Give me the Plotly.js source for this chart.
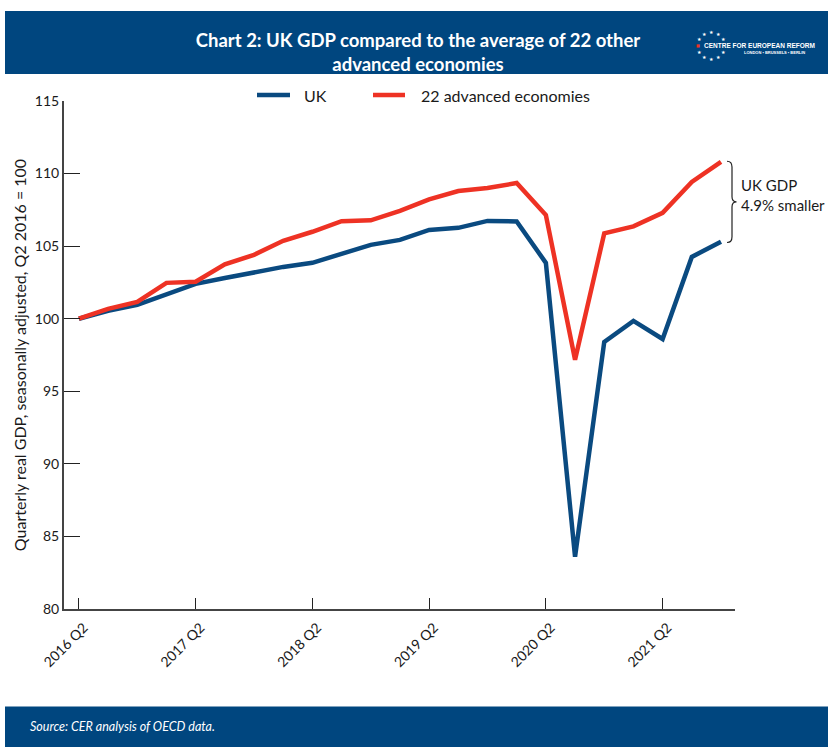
<!DOCTYPE html>
<html>
<head>
<meta charset="utf-8">
<script src="https://cdn.plot.ly/plotly-3.0.1.min.js"></script>
<style>html,body{margin:0;padding:0;background:#fff;}#chart{width:828px;height:747px;}</style>
</head>
<body>
<div id="chart"></div>
<script>
// Quarters (x categories)
const quarters = [
  "2016 Q2","2016 Q3","2016 Q4","2017 Q1",
  "2017 Q2","2017 Q3","2017 Q4","2018 Q1",
  "2018 Q2","2018 Q3","2018 Q4","2019 Q1",
  "2019 Q2","2019 Q3","2019 Q4","2020 Q1",
  "2020 Q2","2020 Q3","2020 Q4","2021 Q1",
  "2021 Q2","2021 Q3","2021 Q4"
];
const tickLabels = ["2016 Q2","2017 Q2","2018 Q2","2019 Q2","2020 Q2","2021 Q2"];
// UK GDP, Q2 2016 = 100
const ukGDP = [100.0,100.55,100.96,101.7,102.4,102.8,103.2,103.57,103.85,104.47,105.09,105.43,
               106.12,106.26,106.74,106.7,103.85,83.6,98.4,99.85,98.6,104.26,105.3];
// Average of 22 advanced economies, Q2 2016 = 100
const advGDP = [100.0,100.68,101.16,102.47,102.55,103.75,104.4,105.37,105.99,106.72,106.78,107.43,
                108.22,108.8,109.0,109.35,107.15,97.17,105.88,106.36,107.29,109.42,110.8];
const yTicks = [80,85,90,95,100,105,110,115];
const seriesNames = ["UK", "22 advanced economies"];

const BLUE = "#0a4a80";
const RED = "#ee3224";
const BAND = "#00467f";
const FONT = "Lato, 'Open Sans', sans-serif";

const traces = [
  {x: quarters, y: ukGDP, name: seriesNames[0], type: "scatter", mode: "lines",
   line: {color: BLUE, width: 4.5}},
  {x: quarters, y: advGDP, name: seriesNames[1], type: "scatter", mode: "lines",
   line: {color: RED, width: 4.5}}
];

// paper-coordinate helpers (plot area: x 64..735 px, y 101..609.5 px)
const L = 64, R = 735, T = 101, B = 609.5;
const px = v => (v - L) / (R - L);
const py = v => (B - v) / (B - T);

// star logo ring
const starAnn = [];
const cx = 711.5, cy = 45.5, rad = 13.5;
for (let i = 0; i < 12; i++) {
  const a = Math.PI / 2 - i * Math.PI / 6;
  const sx = cx + rad * Math.cos(a), sy = cy - rad * Math.sin(a);
  if (i === 3) continue; // right side covered by text
  starAnn.push({xref: "paper", yref: "paper", x: px(sx), y: py(sy), text: i === 9 ? "■" : "★",
    showarrow: false, xanchor: "center", yanchor: "middle",
    font: {family: "DejaVu Sans", size: i === 9 ? 4 : 5, color: i === 9 ? RED : "#ffffff"}});
}

// brace path
const bx0 = px(727), bx1 = px(732), bx2 = px(736.5);
const yTop = 110.85, yBot = 105.25, yMid = (yTop + yBot) / 2;
const bracePath =
  `M ${bx0} ${yTop} Q ${bx1} ${yTop} ${bx1} ${yTop - 0.4} L ${bx1} ${yMid + 0.35} ` +
  `Q ${bx1} ${yMid} ${bx2} ${yMid} Q ${bx1} ${yMid} ${bx1} ${yMid - 0.35} ` +
  `L ${bx1} ${yBot + 0.4} Q ${bx1} ${yBot} ${bx0} ${yBot}`;

// manual legend geometry
const legY = py(95);
const legItems = [
  {x0: 257, x1: 290, tx: 302, color: BLUE, name: seriesNames[0]},
  {x0: 373, x1: 405, tx: 419, color: RED, name: seriesNames[1]}
];

const layout = {
  width: 828, height: 747,
  margin: {l: L, r: 828 - R, t: T, b: 747 - B},
  paper_bgcolor: "#ffffff", plot_bgcolor: "#ffffff",
  font: {family: FONT, color: "#1a1a1a", size: 13},
  title: {
    text: "<b>Chart 2: UK GDP compared to the average of 22 other<br>advanced economies</b>",
    font: {family: FONT, size: 18.5, color: "#ffffff"},
    xref: "container", yref: "container", x: 418 / 828, y: 1 - 47 / 747,
    xanchor: "center", yanchor: "middle"
  },
  showlegend: false,
  xaxis: {
    type: "category", range: [-0.51, 22.48],
    tickmode: "array", tickvals: tickLabels, ticktext: tickLabels,
    tickangle: -45, ticks: "inside", ticklen: 11, tickwidth: 1.2, tickcolor: "#222",
    ticklabelshift: 5, ticklabelstandoff: 3,
    showline: true, linecolor: "#444", linewidth: 2, showgrid: false, zeroline: false,
    tickfont: {family: FONT, size: 14, color: "#1a1a1a"}, fixedrange: true
  },
  yaxis: {
    range: [80, 115], tickmode: "array", tickvals: yTicks,
    ticks: "inside", ticklen: 16, tickwidth: 1.2, tickcolor: "#222",
    showline: true, linecolor: "#444", linewidth: 2, showgrid: false, zeroline: false,
    tickfont: {family: FONT, size: 14, color: "#1a1a1a"},
    title: {text: "Quarterly real GDP, seasonally adjusted, Q2 2016 = 100",
            font: {family: FONT, size: 16, color: "#1a1a1a"}, standoff: 4},
    fixedrange: true
  },
  shapes: [
    {type: "rect", xref: "paper", yref: "paper", x0: px(5), x1: px(830), y0: py(74), y1: py(11),
     fillcolor: BAND, line: {width: 0}, layer: "below"},
    {type: "rect", xref: "paper", yref: "paper", x0: px(5), x1: px(830), y0: py(749), y1: py(707),
     fillcolor: BAND, line: {width: 0}, layer: "below"},
    {type: "path", xref: "paper", yref: "y", path: bracePath,
     line: {color: "#222", width: 1.2}}
  ].concat(legItems.map(it => ({type: "line", xref: "paper", yref: "paper",
     x0: px(it.x0), x1: px(it.x1), y0: legY, y1: legY, line: {color: it.color, width: 4.5}}))),
  annotations: [
    {xref: "paper", yref: "y", x: px(739), y: 108.55, xanchor: "left", yanchor: "middle", align: "left",
     text: "UK GDP<br>4.9% smaller", showarrow: false,
     font: {family: FONT, size: 15, color: "#1a1a1a"}},
    {xref: "paper", yref: "paper", x: px(28), y: py(727), xanchor: "left", yanchor: "middle",
     text: "<i>Source: CER analysis of OECD data.</i>", showarrow: false,
     font: {family: FONT, size: 12.5, color: "#ffffff"}},
    {xref: "paper", yref: "paper", x: px(702), y: py(45), xanchor: "left", yanchor: "middle",
     text: "<b>CENTRE FOR EUROPEAN REFORM</b>", showarrow: false,
     font: {family: "Liberation Sans Narrow, Liberation Sans, sans-serif", size: 6.5, color: "#ffffff"}},
    {xref: "paper", yref: "paper", x: px(742), y: py(52.5), xanchor: "left", yanchor: "middle",
     text: "<b>LONDON • BRUSSELS • BERLIN</b>", showarrow: false,
     font: {family: "Liberation Sans Narrow, Liberation Sans, sans-serif", size: 4, color: "#ffffff"}}
  ].concat(legItems.map(it => ({xref: "paper", yref: "paper", x: px(it.tx), y: legY,
     xanchor: "left", yanchor: "middle", text: it.name, showarrow: false,
     font: {family: FONT, size: 16, color: "#1a1a1a"}}))).concat(starAnn)
};

Plotly.newPlot("chart", traces, layout, {displayModeBar: false, staticPlot: true});
</script>
</body>
</html>
